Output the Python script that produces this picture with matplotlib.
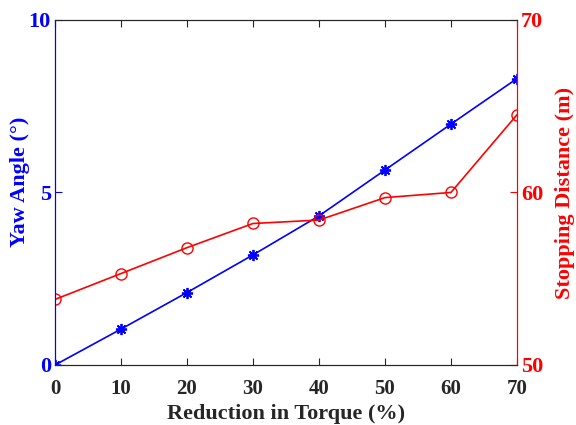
import numpy as np
import matplotlib
matplotlib.use('Agg')
import matplotlib.pyplot as plt

plt.rc('font', family='Liberation Serif', weight='bold', size=15)

torque = [0, 10, 20, 30, 40, 50, 60, 70]
yaw = [0.0, 1.04, 2.1, 3.19, 4.32, 5.65, 6.98, 8.3]
stopping = [53.8, 55.3, 56.8, 58.2, 58.4, 59.7, 60.0, 64.5]

fig = plt.figure(figsize=(5.76, 4.25), dpi=100)
ax = fig.add_axes([0.0955, 0.1412, 0.802, 0.812])
ax2 = ax.twinx()

ax.plot(torque, yaw, color='blue', marker=(8, 2, 0), markersize=8,
        markeredgewidth=1.3, lw=1.2)
ax2.plot(torque, stopping, color='red', marker='o', markersize=8,
         markerfacecolor='none', lw=1.2)

ax.set_xlim(0, 70)
ax.set_ylim(0, 10)
ax2.set_ylim(50, 70)
ax.set_xticks(torque)
ax.set_yticks([0, 5, 10])
ax2.set_yticks([50, 60, 70])

dark = '#262626'
for a in (ax, ax2):
    a.spines['top'].set_color(dark)
    a.spines['bottom'].set_color(dark)
    a.spines['left'].set_color('blue')
    a.spines['right'].set_color('red')
ax.tick_params(axis='x', direction='in', top=True, colors=dark, labelsize=15, pad=10, length=5)
ax.tick_params(axis='y', direction='in', colors='blue', labelsize=16, pad=3, length=5)
ax2.tick_params(axis='y', direction='in', colors='red', labelsize=16, pad=3, length=5)

ax.set_xlabel('Reduction in Torque (%)', fontsize=16, fontweight='bold', color=dark, labelpad=4)
ax.set_ylabel('Yaw Angle (°)', fontsize=16, fontweight='bold', color='blue')
ax2.set_ylabel('Stopping Distance (m)', fontsize=16, fontweight='bold', color='red')
ax.yaxis.set_label_coords(-0.055, 0.53)
ax2.yaxis.set_label_coords(1.082, 0.5)

fig.savefig('out.png', dpi=100)
